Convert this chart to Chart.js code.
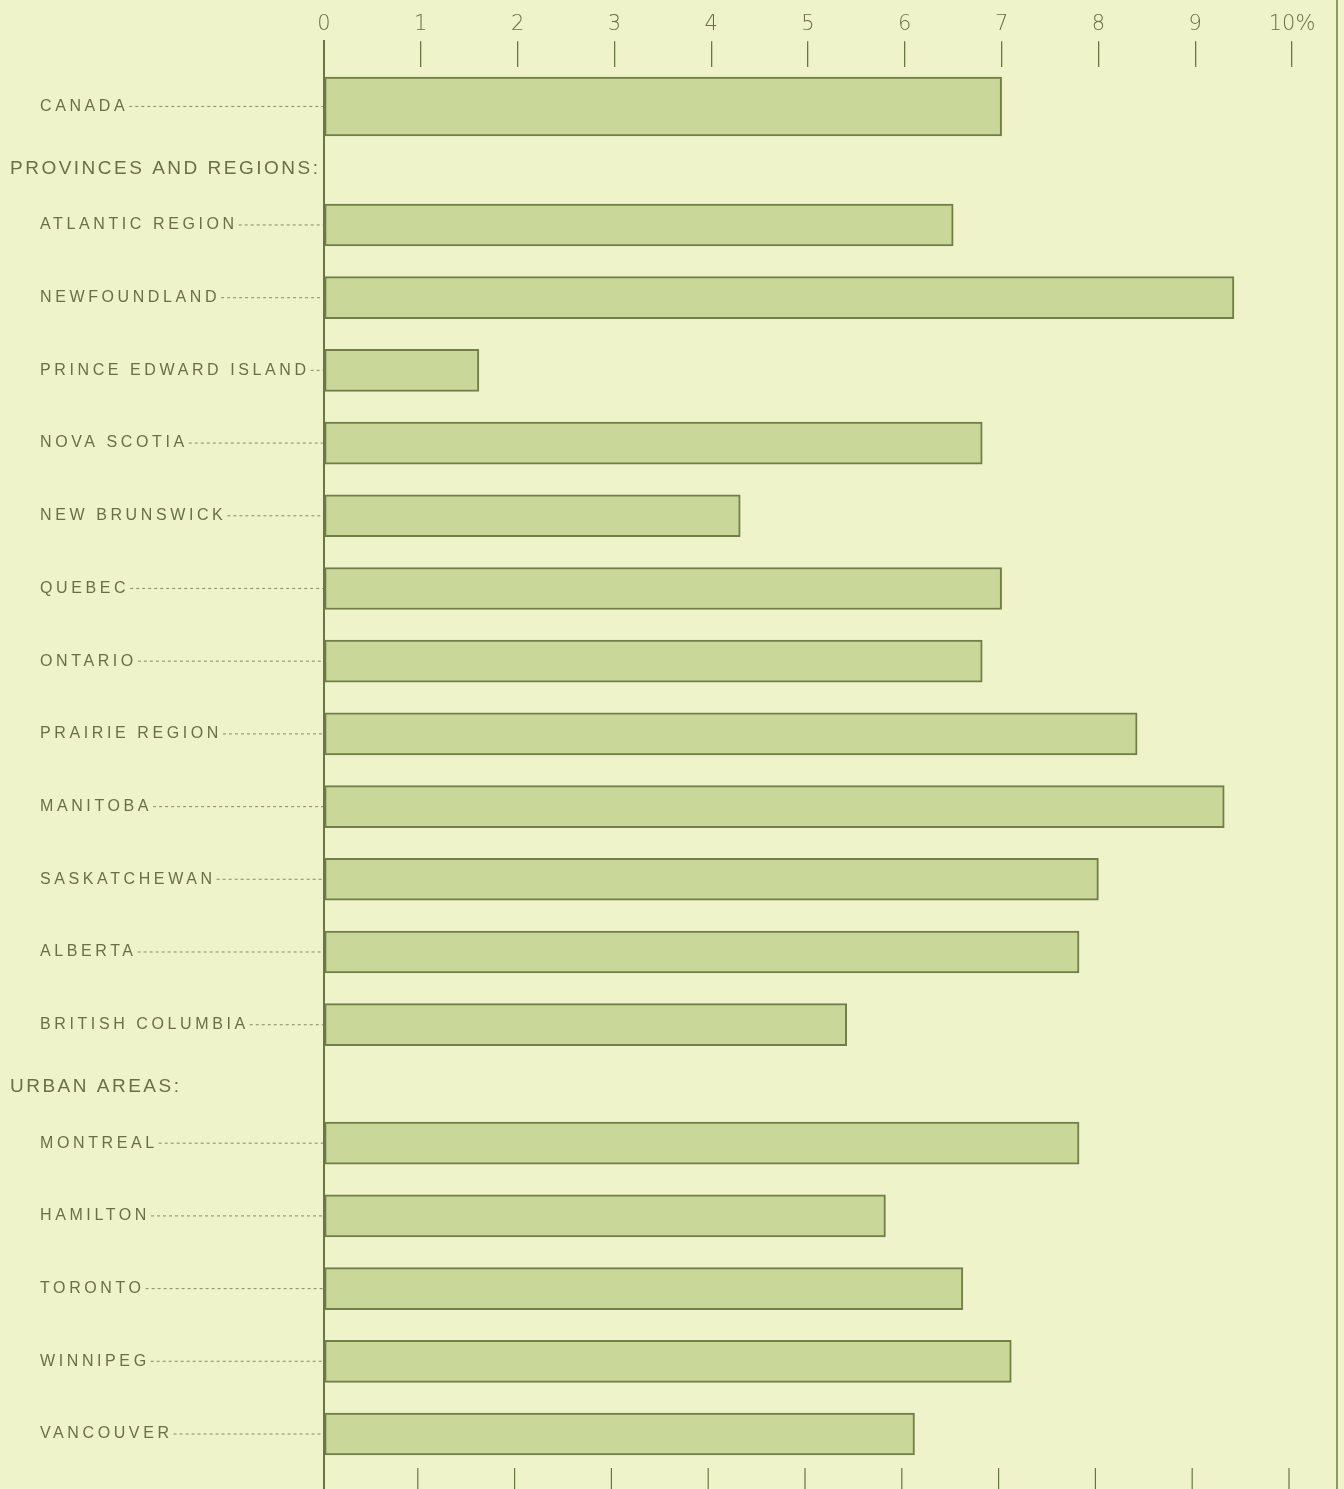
<!DOCTYPE html>
<html>
<head>
<meta charset="utf-8">
<script src="https://cdn.jsdelivr.net/npm/chart.js@4.4.1/dist/chart.umd.min.js"></script>
<style>
  html, body { margin: 0; padding: 0; background: #eef3c9; }
  canvas { display: block; }
</style>
</head>
<body>
<canvas id="grafico" width="1344" height="1489"></canvas>
<script>
const categories = [
  'CANADA',
  'ATLANTIC REGION', 'NEWFOUNDLAND', 'PRINCE EDWARD ISLAND', 'NOVA SCOTIA', 'NEW BRUNSWICK',
  'QUEBEC', 'ONTARIO', 'PRAIRIE REGION', 'MANITOBA', 'SASKATCHEWAN', 'ALBERTA', 'BRITISH COLUMBIA',
  'MONTREAL', 'HAMILTON', 'TORONTO', 'WINNIPEG', 'VANCOUVER'
];
const values = [7.0, 6.5, 9.4, 1.6, 6.8, 4.3, 7.0, 6.8, 8.4, 9.3, 8.0, 7.8, 5.4, 7.8, 5.8, 6.6, 7.1, 6.1];
const sectionTitles = ['PROVINCES AND REGIONS:', 'URBAN AREAS:'];
const sectionStarts = ['ATLANTIC REGION', 'MONTREAL'];
const tickValues = [0, 1, 2, 3, 4, 5, 6, 7, 8, 9, 10];

const BG = '#eef3c9';
const INK = '#687146';
const LINE = '#6a7644';
const SECTION_GAP = 0.63;
const PAD_TOP = 0.54;
const PAD_BOTTOM = 0.44;

// category scale with extra room before each section
class RowScale extends Chart.CategoryScale {
  slots() {
    const labels = this.getLabels();
    const out = [];
    let s = 0;
    labels.forEach((lab, i) => {
      if (i > 0) s += 1 + (sectionStarts.includes(lab) ? SECTION_GAP : 0);
      out.push(s);
    });
    return out;
  }
  getPixelForValue(value) {
    if (typeof value !== 'number') value = this.parse(value);
    if (value === null || value === undefined) return NaN;
    const sl = this.slots();
    const span = sl[sl.length - 1] + PAD_TOP + PAD_BOTTOM;
    return this.top + (sl[value] + PAD_TOP) / span * (this.bottom - this.top);
  }
}
RowScale.id = 'rows';
RowScale.defaults = Chart.CategoryScale.defaults;
Chart.register(RowScale);

const decor = {
  id: 'decor',
  beforeDraw(chart) {
    const ctx = chart.ctx;
    ctx.save();
    ctx.fillStyle = BG;
    ctx.fillRect(0, 0, chart.width, chart.height);
    // page edge
    ctx.strokeStyle = '#8c9866';
    ctx.lineWidth = 2;
    ctx.beginPath();
    ctx.moveTo(1337, 0);
    ctx.lineTo(1337, chart.height);
    ctx.stroke();
    ctx.restore();
  },
  afterDatasetsDraw(chart) {
    const ctx = chart.ctx;
    const x = chart.scales.x;
    const y = chart.scales.y;
    const x0 = x.getPixelForValue(0);
    ctx.save();
    // zero line
    ctx.strokeStyle = LINE;
    ctx.lineWidth = 2;
    ctx.beginPath();
    ctx.moveTo(x0, 40);
    ctx.lineTo(x0, chart.height);
    ctx.stroke();
    // bottom ticks
    ctx.lineWidth = 1.2;
    tickValues.slice(1).forEach(v => {
      const px = x.getPixelForValue(v) - 3;
      ctx.beginPath();
      ctx.moveTo(px, chart.chartArea.bottom + 2);
      ctx.lineTo(px, chart.height);
      ctx.stroke();
    });
    // category labels + leaders
    ctx.fillStyle = INK;
    ctx.textBaseline = 'middle';
    ctx.font = '16px "Liberation Sans", Arial, sans-serif';
    ctx.letterSpacing = '3.6px';
    categories.forEach((lab, i) => {
      const py = y.getPixelForValue(i);
      ctx.fillText(lab, 40, py);
      const w = ctx.measureText(lab).width;
      ctx.save();
      ctx.strokeStyle = '#8e976b';
      ctx.lineWidth = 1.1;
      ctx.setLineDash([3, 3]);
      ctx.beginPath();
      ctx.moveTo(40 + w + 1, py);
      ctx.lineTo(x0 - 1, py);
      ctx.stroke();
      ctx.restore();
    });
    // section titles
    ctx.font = '19px "Liberation Sans", Arial, sans-serif';
    ctx.letterSpacing = '2.5px';
    sectionTitles.forEach((t, k) => {
      const idx = categories.indexOf(sectionStarts[k]);
      const py = y.getPixelForValue(idx) - 0.77 * (y.getPixelForValue(idx + 1) - y.getPixelForValue(idx));
      ctx.fillText(t, 10, py);
    });
    ctx.restore();
  }
};

const ctx = document.getElementById('grafico').getContext('2d');
new Chart(ctx, {
  type: 'bar',
  data: {
    labels: categories,
    datasets: [{
      data: values.map((v, i) => i === 0 ? v : null),
      backgroundColor: '#c9d899',
      borderColor: '#717e49',
      borderWidth: 2,
      borderSkipped: false,
      barThickness: 59,
      grouped: false
    }, {
      data: values.map((v, i) => i === 0 ? null : v),
      backgroundColor: '#c9d899',
      borderColor: '#717e49',
      borderWidth: 2,
      borderSkipped: false,
      barThickness: 42,
      grouped: false
    }]
  },
  options: {
    responsive: false,
    animation: false,
    indexAxis: 'y',
    layout: { padding: { left: 324, right: 52, top: 8, bottom: 23 } },
    plugins: { legend: { display: false }, tooltip: { enabled: false } },
    scales: {
      x: {
        position: 'top',
        min: 0,
        max: 10,
        afterBuildTicks: scale => { scale.ticks = tickValues.map(v => ({ value: v })); },
        border: { display: false },
        grid: { drawOnChartArea: false, drawTicks: true, tickLength: 26, color: LINE, lineWidth: 1.3 },
        ticks: {
          padding: 4,
          color: INK,
          font: { family: '"DejaVu Sans", sans-serif', size: 21, weight: '200' },
          callback: v => v === 10 ? '10%' : String(v)
        }
      },
      y: {
        type: 'rows',
        display: false
      }
    }
  },
  plugins: [decor]
});
</script>
</body>
</html>
